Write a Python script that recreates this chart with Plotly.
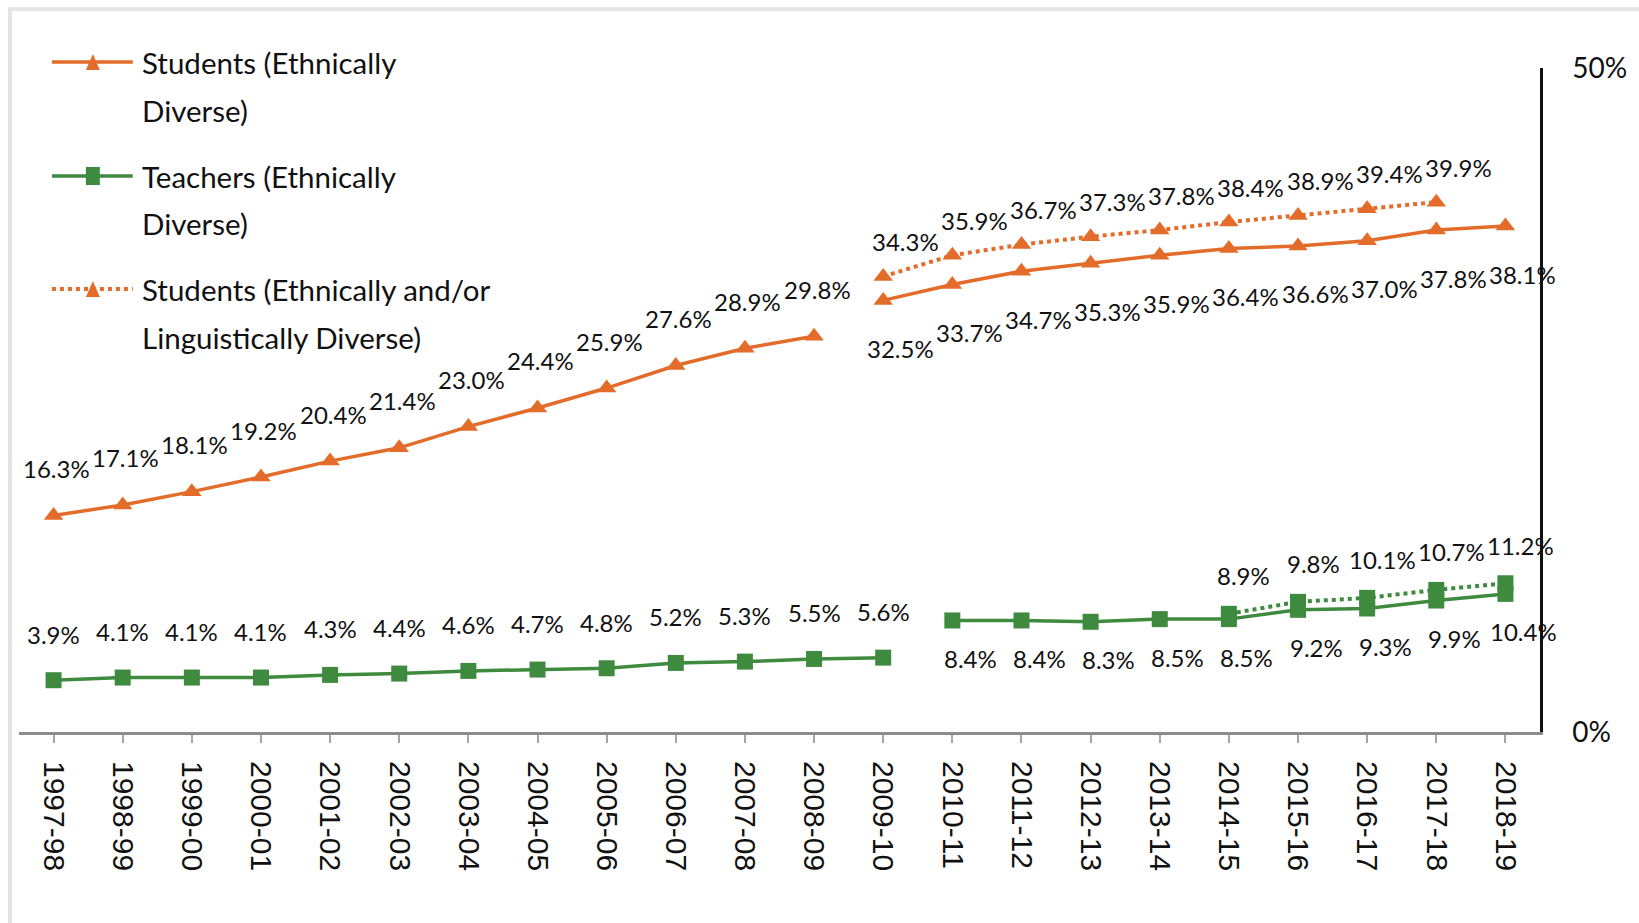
import plotly.graph_objects as go

# ---------------- data ----------------
categories = ["1997-98", "1998-99", "1999-00", "2000-01", "2001-02", "2002-03",
              "2003-04", "2004-05", "2005-06", "2006-07", "2007-08", "2008-09",
              "2009-10", "2010-11", "2011-12", "2012-13", "2013-14", "2014-15",
              "2015-16", "2016-17", "2017-18", "2018-19"]

# Students (Ethnically Diverse): two segments
students_eth_a = [16.3, 17.1, 18.1, 19.2, 20.4, 21.4, 23.0, 24.4, 25.9, 27.6, 28.9, 29.8]  # 1997-98..2008-09
students_eth_b = [32.5, 33.7, 34.7, 35.3, 35.9, 36.4, 36.6, 37.0, 37.8, 38.1]              # 2009-10..2018-19

# Teachers (Ethnically Diverse): two segments
teachers_eth_a = [3.9, 4.1, 4.1, 4.1, 4.3, 4.4, 4.6, 4.7, 4.8, 5.2, 5.3, 5.5, 5.6]  # 1997-98..2009-10
teachers_eth_b = [8.4, 8.4, 8.3, 8.5, 8.5, 9.2, 9.3, 9.9, 10.4]                      # 2010-11..2018-19

# Ethnically and/or Linguistically Diverse (dotted)
students_eld = [34.3, 35.9, 36.7, 37.3, 37.8, 38.4, 38.9, 39.4, 39.9]  # 2009-10..2017-18
teachers_eld = [8.9, 9.8, 10.1, 10.7, 11.2]                            # 2014-15..2018-19

cats_students_a = categories[0:12]
cats_students_b = categories[12:22]
cats_teachers_a = categories[0:13]
cats_teachers_b = categories[13:22]
cats_students_eld = categories[12:21]
cats_teachers_eld = categories[17:22]

ORANGE = "#E46C2A"
GREEN = "#3E8A3E"
LABEL_FONT = dict(family="Lato, 'Open Sans', sans-serif", size=24, color="#111111")

fig = go.Figure()

def add_series(xs, ys, color, symbol, msize, dash):
    fig.add_trace(go.Scatter(
        x=xs, y=ys, mode="lines+markers", showlegend=False,
        line=dict(color=color, width=3.5 if dash == "solid" else 4, dash=dash),
        marker=dict(symbol=symbol, size=msize, color=color, line=dict(width=0)),
        hoverinfo="skip"))

add_series(cats_students_a, students_eth_a, ORANGE, "triangle-up", 17, "solid")
add_series(cats_students_b, students_eth_b, ORANGE, "triangle-up", 17, "solid")
add_series(cats_students_eld, students_eld, ORANGE, "triangle-up", 17, "dot")
add_series(cats_teachers_a, teachers_eth_a, GREEN, "square", 16, "solid")
add_series(cats_teachers_b, teachers_eth_b, GREEN, "square", 16, "solid")
add_series(cats_teachers_eld, teachers_eld, GREEN, "square", 16, "dot")

annotations = []

def add_labels(xs, ys, dx, dy):
    for x, y in zip(xs, ys):
        annotations.append(dict(
            x=x, y=y, xref="x", yref="y", text=f"{y:.1f}%", showarrow=False,
            xshift=dx, yshift=dy, xanchor="center", yanchor="middle", font=LABEL_FONT))

add_labels(cats_students_a, students_eth_a, 3, 47)
add_labels(cats_students_b, students_eth_b, 17, -48)
add_labels(cats_students_eld, students_eld, 22, 35)
add_labels(cats_teachers_a, teachers_eth_a, 0, 46)
add_labels(cats_teachers_b, teachers_eth_b, 18, -38)
add_labels(cats_teachers_eld, teachers_eld, 15, 38)

# ---------------- layout geometry ----------------
W, H = 1639, 923
L, R, T, B = 19, 96, 68, 191
PW, PH = W - L - R, H - T - B

def px(xp):
    return (xp - L) / PW

def py(yp):
    return (H - B - yp) / PH

shapes = []
# outer light-gray frame
shapes.append(dict(type="rect", xref="paper", yref="paper",
                   x0=px(10), y0=py(9), x1=px(1700), y1=py(1000),
                   line=dict(color="#e4e4e4", width=4), fillcolor="rgba(0,0,0,0)", layer="below"))

# manual legend
LEG_FONT = dict(family="Lato, 'Open Sans', sans-serif", size=29.5, color="#111111")
legend_items = [
    ("Students (Ethnically", "Diverse)", ORANGE, "tri", "solid", 62, 48),
    ("Teachers (Ethnically", "Diverse)", GREEN, "sq", "solid", 176, 47),
    ("Students (Ethnically and/or", "Linguistically Diverse)", ORANGE, "tri", "dot", 289, 49),
]
for l1, l2, color, sym, dash, yc, gap in legend_items:
    shapes.append(dict(type="line", xref="paper", yref="paper",
                       x0=px(52), x1=px(133), y0=py(yc), y1=py(yc),
                       line=dict(color=color, width=3.5 if dash == "solid" else 4, dash=dash)))
    if sym == "tri":
        path = (f"M {px(86)},{py(yc + 8)} L {px(100)},{py(yc + 8)} "
                f"L {px(93)},{py(yc - 8)} Z")
        shapes.append(dict(type="path", xref="paper", yref="paper", path=path,
                           fillcolor=color, line=dict(width=0)))
    else:
        shapes.append(dict(type="rect", xref="paper", yref="paper",
                           x0=px(86), x1=px(100), y0=py(yc + 9), y1=py(yc - 9),
                           fillcolor=color, line=dict(width=0)))
    for k, t in enumerate([l1, l2]):
        annotations.append(dict(x=px(140), y=py(yc + k * gap), xref="paper", yref="paper",
                                text=t, showarrow=False, xanchor="left", yanchor="middle",
                                font=LEG_FONT))

fig.update_layout(
    width=W, height=H,
    margin=dict(l=L, r=R, t=T, b=B),
    paper_bgcolor="white", plot_bgcolor="white",
    showlegend=False,
    shapes=shapes,
    annotations=annotations,
    xaxis=dict(
        type="category", categoryorder="array", categoryarray=categories,
        range=[-0.5, 21.5], showgrid=False, zeroline=False,
        showline=True, linecolor="#8c8c8c", linewidth=3,
        ticks="outside", ticklen=8, tickwidth=2, tickcolor="#a6a6a6",
        tickangle=90, ticklabelstandoff=12,
        tickfont=dict(family="'Liberation Sans', Arial, sans-serif", size=30, color="#111111"),
    ),
    yaxis=dict(
        side="right", range=[0, 50], tickvals=[0, 50], ticktext=["0%", "50%"],
        showgrid=False, zeroline=False,
        showline=True, linecolor="#111111", linewidth=2.5,
        ticks="inside", ticklen=9, tickwidth=2, tickcolor="#111111",
        ticklabelstandoff=24,
        tickfont=dict(family="Lato, 'Open Sans', sans-serif", size=28, color="#111111"),
    ),
)

fig.write_html("out.html",
               config={"displayModeBar": False},
               post_script="document.body.style.margin='0px';document.body.style.overflow='hidden';")
